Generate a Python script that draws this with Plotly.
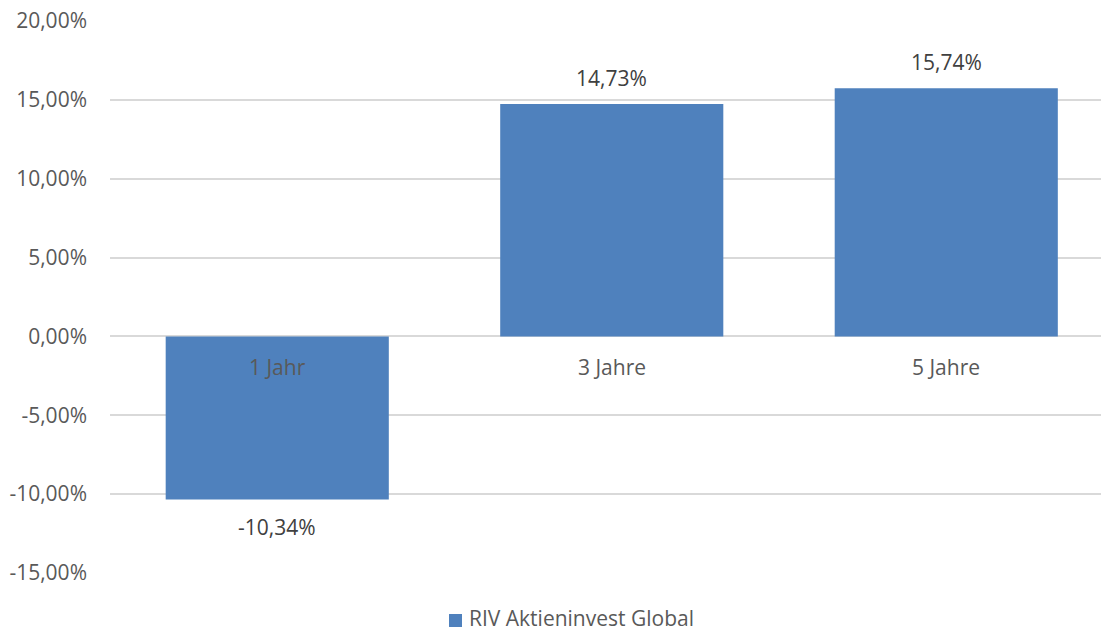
import plotly.graph_objects as go

categories = ["1 Jahr", "3 Jahre", "5 Jahre"]
values = [-10.34, 14.73, 15.74]
series_name = "RIV Aktieninvest Global"
tick_values = [-15, -10, -5, 0, 5, 10, 15, 20]


def de_pct(v):
    return f"{v:.2f}".replace(".", ",") + "%"


tick_text = [de_pct(v) for v in tick_values]

FONT = "Open Sans"
FS = 21
BAR_COLOR = "#4F81BD"

fig = go.Figure()
fig.add_trace(go.Bar(
    x=categories, y=values, name=series_name,
    marker=dict(color=BAR_COLOR, line=dict(width=0)),
    showlegend=False,
))

annotations = []
for c, v in zip(categories, values):
    annotations.append(dict(
        x=c, y=v, xref="x", yref="y", text=de_pct(v), showarrow=False,
        yshift=26 if v >= 0 else -27,
        font=dict(family=FONT, size=FS, color="#404040"),
    ))
    annotations.append(dict(
        x=c, y=0, xref="x", yref="y", text=c, showarrow=False,
        yshift=-31,
        font=dict(family=FONT, size=FS, color="#595959"),
    ))

# legend (single series key) below the plot
annotations.append(dict(
    x=0.3613, y=-0.1087, xref="paper", yref="paper", xanchor="left", yanchor="bottom",
    text=series_name, showarrow=False, borderpad=0,
    font=dict(family=FONT, size=FS, color="#595959"),
))

fig.update_layout(
    width=1101, height=633,
    margin=dict(l=110, r=0, t=21, b=60, autoexpand=False),
    paper_bgcolor="white", plot_bgcolor="white",
    bargap=0.333,
    font=dict(family=FONT, size=FS, color="#595959"),
    xaxis=dict(
        type="category", showticklabels=False, showgrid=False,
        zeroline=False, showline=False, range=[-0.5, 2.4626],
    ),
    yaxis=dict(
        range=[-15, 20], tickvals=tick_values, ticktext=tick_text,
        showgrid=True, gridcolor="#D9D9D9", gridwidth=1.5,
        zeroline=True, zerolinecolor="#D9D9D9", zerolinewidth=1.5,
        showline=False, ticks="", ticklabelstandoff=22,
        tickfont=dict(family=FONT, size=FS, color="#595959"),
    ),
    shapes=[dict(
        type="rect", xref="paper", yref="paper",
        x0=0.3421, x1=0.3552, y0=-0.0978, y1=-0.0743,
        fillcolor=BAR_COLOR, line=dict(width=0),
    )],
    annotations=annotations,
)

fig.write_html(
    "out.html",
    config={"displayModeBar": False},
    post_script="document.body.style.margin='0';document.body.style.overflow='hidden';",
)
